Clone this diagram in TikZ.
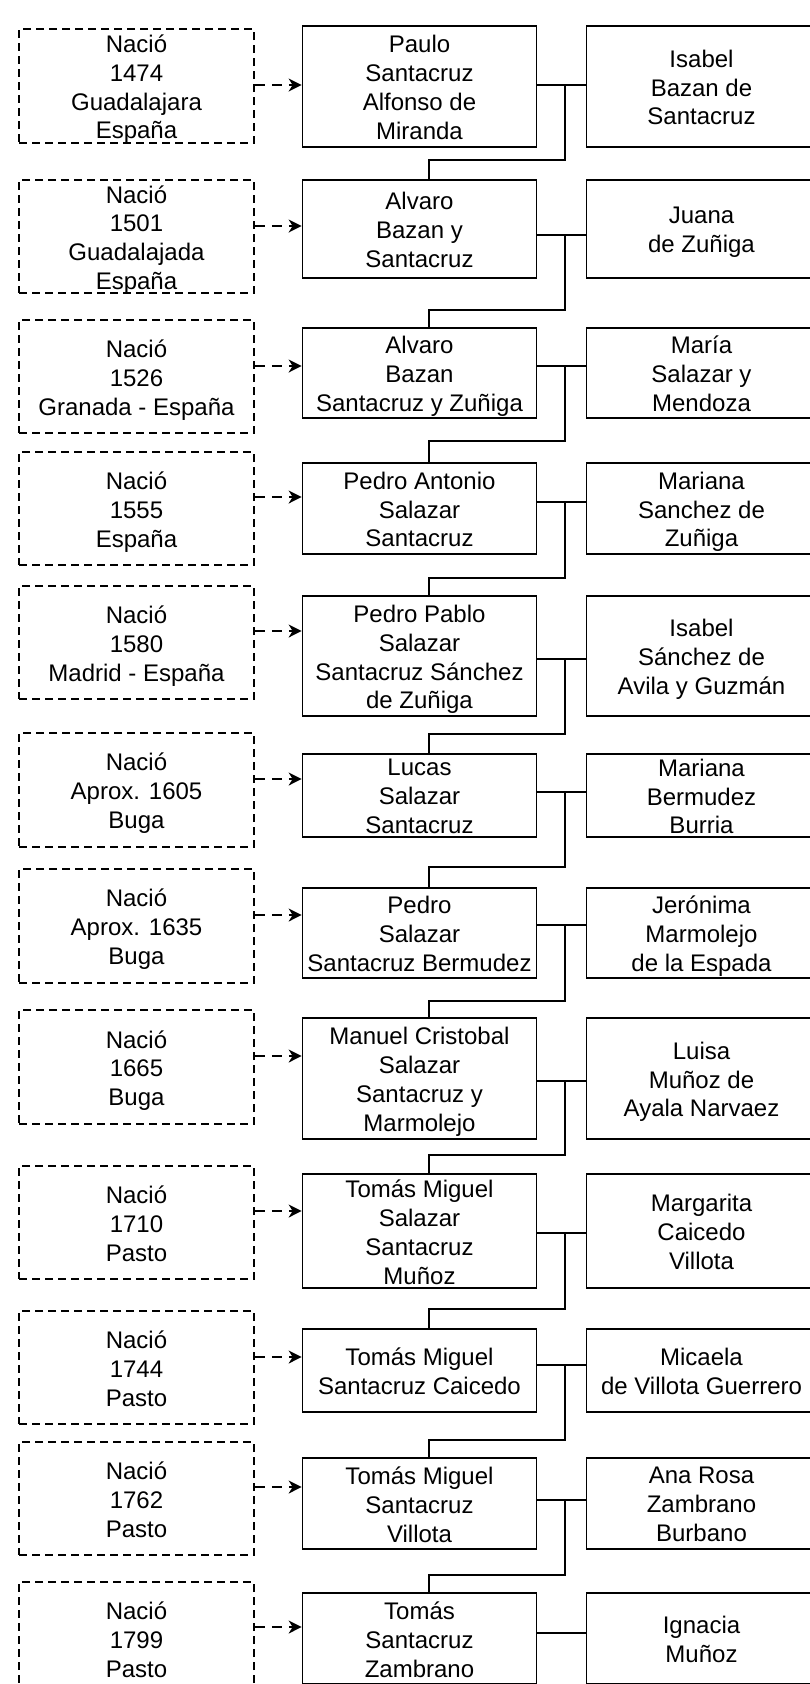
\documentclass[tikz,border=0pt]{standalone}
\usepackage{fontspec}
\setmainfont{Liberation Sans}
\usetikzlibrary{arrows.meta}
\newcommand\lnstrut{\rule[-6.1pt]{0pt}{28.8pt}}
\newcommand\famnode[5]{%
  \node[#1, minimum height=#4pt] (#2) at #3 {};
  \node[txt] (#2t) at (#2.center) {#5};}
\begin{document}
\begin{tikzpicture}[x=1pt,y=-1pt,
  every node/.style={inner sep=0pt},
  txt/.style={font=\fontsize{24}{28.8}\selectfont, align=center, yshift=-4pt,
    execute at begin node=\lnstrut, execute at end node=\lnstrut},
  person/.style={draw, line width=1.7pt, minimum width=234pt},
  spousebox/.style={draw, line width=1.7pt, minimum width=230pt},
  birth/.style={draw, line width=1.6pt, dash pattern=on 8pt off 5pt, minimum width=235pt},
  arr/.style={-{Stealth[length=13pt,width=13pt,inset=4pt]}, line width=1.8pt, dash pattern=on 10pt off 7pt},
  wed/.style={line width=1.7pt},
  link/.style={line width=1.3pt}]
\useasboundingbox (0,0) rectangle (810,1684);
\clip (0,0) rectangle (810,1684);

% Row 1
\famnode{birth}{L1}{(136.5,86)}{114}{Nació\\1474\\Guadalajara\\España}
\famnode{person}{M1}{(419.5,86.5)}{121}{Paulo\\Santacruz\\Alfonso de\\Miranda}
\famnode{spousebox}{R1}{(701.5,86.5)}{121}{Isabel\\Bazan de\\Santacruz}
% Row 2
\famnode{birth}{L2}{(136.5,236.5)}{113}{Nació\\1501\\Guadalajada\\España}
\famnode{person}{M2}{(419.5,229)}{98}{Alvaro\\Bazan y\\Santacruz}
\famnode{spousebox}{R2}{(701.5,229)}{98}{Juana\\de Zuñiga}
% Row 3
\famnode{birth}{L3}{(136.5,376.5)}{113}{Nació\\1526\\Granada - España}
\famnode{person}{M3}{(419.5,373)}{90}{Alvaro\\Bazan\\Santacruz y Zuñiga}
\famnode{spousebox}{R3}{(701.5,373)}{90}{María\\Salazar y\\Mendoza}
% Row 4
\famnode{birth}{L4}{(136.5,508.5)}{113}{Nació\\1555\\España}
\famnode{person}{M4}{(419.5,508.5)}{91}{Pedro Antonio\\Salazar\\Santacruz}
\famnode{spousebox}{R4}{(701.5,508.5)}{91}{Mariana\\Sanchez de\\Zuñiga}
% Row 5
\famnode{birth}{L5}{(136.5,642.5)}{113}{Nació\\1580\\Madrid - España}
\famnode{person}{M5}{(419.5,656)}{120}{Pedro Pablo\\Salazar\\Santacruz Sánchez\\de Zuñiga}
\famnode{spousebox}{R5}{(701.5,656)}{120}{Isabel\\Sánchez de\\Avila y Guzmán}
% Row 6
\famnode{birth}{L6}{(136.5,790)}{114}{Nació\\Aprox. 1605\\Buga}
\famnode{person}{M6}{(419.5,795.5)}{83}{Lucas\\Salazar\\Santacruz}
\famnode{spousebox}{R6}{(701.5,795.5)}{83}{Mariana\\Bermudez\\Burria}
% Row 7
\famnode{birth}{L7}{(136.5,926)}{114}{Nació\\Aprox. 1635\\Buga}
\famnode{person}{M7}{(419.5,933)}{90}{Pedro\\Salazar\\Santacruz Bermudez}
\famnode{spousebox}{R7}{(701.5,933)}{90}{Jerónima\\Marmolejo\\de la Espada}
% Row 8
\famnode{birth}{L8}{(136.5,1067)}{114}{Nació\\1665\\Buga}
\famnode{person}{M8}{(419.5,1078.5)}{121}{Manuel Cristobal\\Salazar\\Santacruz y\\Marmolejo}
\famnode{spousebox}{R8}{(701.5,1078.5)}{121}{Luisa\\Muñoz de\\Ayala Narvaez}
% Row 9
\famnode{birth}{L9}{(136.5,1222.5)}{113}{Nació\\1710\\Pasto}
\famnode{person}{M9}{(419.5,1231)}{114}{Tomás Miguel\\Salazar\\Santacruz\\Muñoz}
\famnode{spousebox}{R9}{(701.5,1231)}{114}{Margarita\\Caicedo\\Villota}
% Row 10
\famnode{birth}{L10}{(136.5,1367.5)}{113}{Nació\\1744\\Pasto}
\famnode{person}{M10}{(419.5,1370.5)}{83}{Tomás Miguel\\Santacruz Caicedo}
\famnode{spousebox}{R10}{(701.5,1370.5)}{83}{Micaela\\de Villota Guerrero}
% Row 11
\famnode{birth}{L11}{(136.5,1498.5)}{113}{Nació\\1762\\Pasto}
\famnode{person}{M11}{(419.5,1503.5)}{91}{Tomás Miguel\\Santacruz\\Villota}
\famnode{spousebox}{R11}{(701.5,1503.5)}{91}{Ana Rosa\\Zambrano\\Burbano}
% Row 12
\famnode{birth}{L12}{(136.5,1638.5)}{113}{Nació\\1799\\Pasto}
\famnode{person}{M12}{(419.5,1638.5)}{91}{Tomás\\Santacruz\\Zambrano}
\famnode{spousebox}{R12}{(701.5,1638.5)}{91}{Ignacia\\Muñoz}

% arrow levels
\coordinate (a1) at (0,85);
\coordinate (a2) at (0,226);
\coordinate (a3) at (0,366);
\coordinate (a4) at (0,497);
\coordinate (a5) at (0,631);
\coordinate (a6) at (0,779);
\coordinate (a7) at (0,915);
\coordinate (a8) at (0,1056);
\coordinate (a9) at (0,1211);
\coordinate (a10) at (0,1357);
\coordinate (a11) at (0,1487);
\coordinate (a12) at (0,1627);
% marriage junctions
\coordinate (s1) at (565,85);
\coordinate (s2) at (565,235);
\coordinate (s3) at (565,366);
\coordinate (s4) at (565,502);
\coordinate (s5) at (565,659);
\coordinate (s6) at (565,792);
\coordinate (s7) at (565,925);
\coordinate (s8) at (565,1081);
\coordinate (s9) at (565,1233);
\coordinate (s10) at (565,1365);
\coordinate (s11) at (565,1500);
\coordinate (s12) at (565,1633);
% descent bends
\coordinate (t1) at (429,160);
\coordinate (t2) at (429,310);
\coordinate (t3) at (429,441);
\coordinate (t4) at (429,578);
\coordinate (t5) at (429,734);
\coordinate (t6) at (429,867);
\coordinate (t7) at (429,1001);
\coordinate (t8) at (429,1155);
\coordinate (t9) at (429,1309);
\coordinate (t10) at (429,1440);
\coordinate (t11) at (429,1575);

\foreach \i in {1,...,12}{
  \draw[arr] (L\i.east |- a\i) -- (M\i.west |- a\i);
  \draw[wed] (M\i.east |- s\i) -- (R\i.west |- s\i);
}
\foreach \i [evaluate=\i as \j using int(\i+1)] in {1,...,11}{
  \draw[link] (s\i) |- (t\i) -- (t\i |- M\j.north);
}
\end{tikzpicture}
\end{document}
